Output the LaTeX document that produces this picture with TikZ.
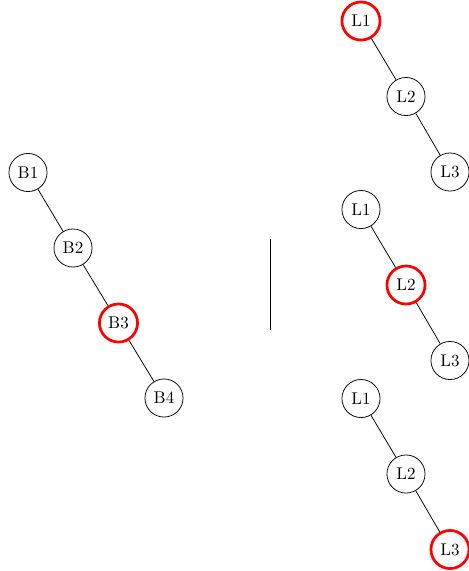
\documentclass[tikz,border=0pt]{standalone}
\begin{document}
\begin{tikzpicture}[x=0.5882pt,y=-0.5882pt,
  nd/.style={draw,circle,minimum size=22.4pt,inner sep=1pt,line width=0.45pt,font=\normalsize},
  hl/.style={draw=red,line width=1.6pt},
  edge/.style={line width=0.45pt}]
\useasboundingbox (0,0) rectangle (469,571);
% left chain
\node[nd] (b1) at (28,172.5) {B1};
\node[nd] (b2) at (73,248) {B2};
\node[nd,hl] (b3) at (118.5,323) {B3};
\node[nd] (b4) at (164,398) {B4};
\draw[edge] (b1) -- (b2);
\draw[edge] (b2) -- (b3);
\draw[edge] (b3) -- (b4);
% separator
\coordinate (s1) at (270,239);
\coordinate (s2) at (270,330);
\draw[line width=0.45pt] (s1) -- (s2);
% right group 1
\node[nd,hl] (a1) at (361,21) {L1};
\node[nd] (a2) at (406,96.5) {L2};
\node[nd] (a3) at (450,172) {L3};
\draw[edge] (a1) -- (a2);
\draw[edge] (a2) -- (a3);
% right group 2
\node[nd] (c1) at (361,209.5) {L1};
\node[nd,hl] (c2) at (406,285) {L2};
\node[nd] (c3) at (450,360.5) {L3};
\draw[edge] (c1) -- (c2);
\draw[edge] (c2) -- (c3);
% right group 3
\node[nd] (d1) at (361,398.5) {L1};
\node[nd] (d2) at (406,474) {L2};
\node[nd,hl] (d3) at (450,549.5) {L3};
\draw[edge] (d1) -- (d2);
\draw[edge] (d2) -- (d3);
\end{tikzpicture}
\end{document}
